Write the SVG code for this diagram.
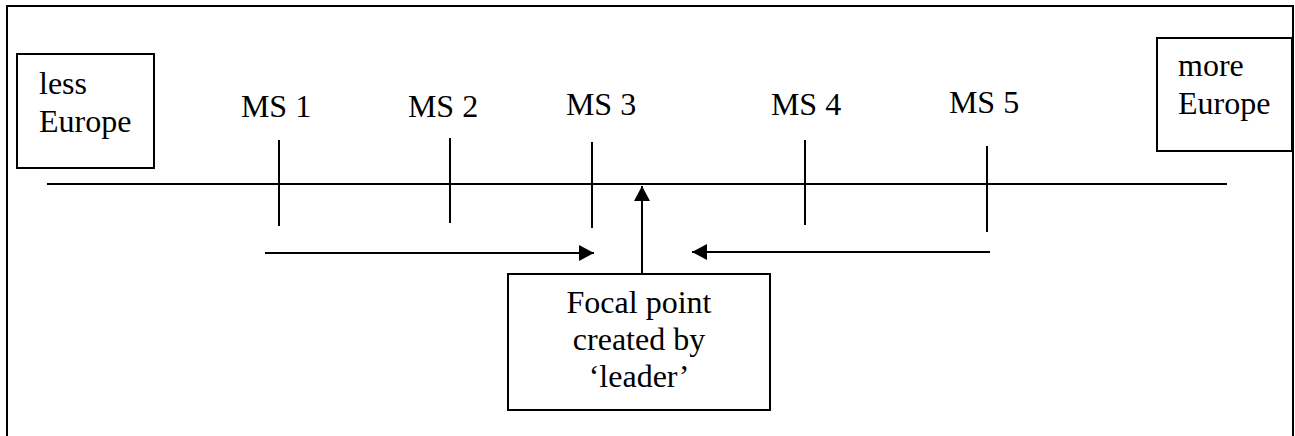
<svg xmlns="http://www.w3.org/2000/svg" width="1295" height="436" viewBox="0 0 1295 436">
<style>
  .box { fill: #fff; stroke: #000; stroke-width: 2; }
  .ln { fill: none; stroke: #000; stroke-width: 2; }
  .t { font-family: 'Liberation Serif', 'DejaVu Serif', serif; font-size: 32px; fill: #000; }
  .c { text-anchor: middle; }
</style>
<defs>
  <marker id="ah" markerUnits="userSpaceOnUse" markerWidth="16" markerHeight="16" viewBox="0 0 16 16" refX="15" refY="8" orient="auto">
    <path d="M0,0 L15,8 L0,16 Z" fill="#000"/>
  </marker>
</defs>
<rect width="1295" height="436" fill="#fff"/>
<path id="frame" class="ln" d="M7,436 V6 H1293 V436"/>

<g id="connectors">
  <line class="ln" x1="47" y1="184" x2="1227" y2="184"/>
  <line class="ln" x1="279" y1="140" x2="279" y2="226"/>
  <line class="ln" x1="450" y1="138" x2="450" y2="223"/>
  <line class="ln" x1="592" y1="142" x2="592" y2="228"/>
  <line class="ln" x1="805" y1="140" x2="805" y2="225"/>
  <line class="ln" x1="987" y1="146" x2="987" y2="232"/>
  <line class="ln" x1="265" y1="253" x2="594" y2="253" marker-end="url(#ah)"/>
  <line class="ln" x1="990" y1="252" x2="692" y2="252" marker-end="url(#ah)"/>
  <line class="ln" x1="642" y1="274" x2="642" y2="186" marker-end="url(#ah)"/>
</g>

<g font-family="Liberation Serif, DejaVu Serif, serif" font-size="32">
<g id="less-europe">
  <rect class="box" x="17" y="54" width="137" height="114"/>
  <text class="t" x="39" y="94">less</text>
  <text class="t" x="39" y="132">Europe</text>
</g>
<g id="more-europe">
  <rect class="box" x="1157" y="38" width="135" height="113"/>
  <text class="t" x="1178" y="76">more</text>
  <text class="t" x="1178" y="114">Europe</text>
</g>
<g id="ms1"><text class="t c" x="276" y="117">MS 1</text></g>
<g id="ms2"><text class="t c" x="443" y="117">MS 2</text></g>
<g id="ms3"><text class="t c" x="601" y="115">MS 3</text></g>
<g id="ms4"><text class="t c" x="806" y="115">MS 4</text></g>
<g id="ms5"><text class="t c" x="984" y="113">MS 5</text></g>
<g id="focal-point">
  <rect class="box" x="508" y="274" width="262" height="136"/>
  <text class="t c" x="639" y="313">Focal point</text>
  <text class="t c" x="639" y="350">created by</text>
  <text class="t c" x="639" y="387">‘leader’</text>
</g>
</g>
</svg>
